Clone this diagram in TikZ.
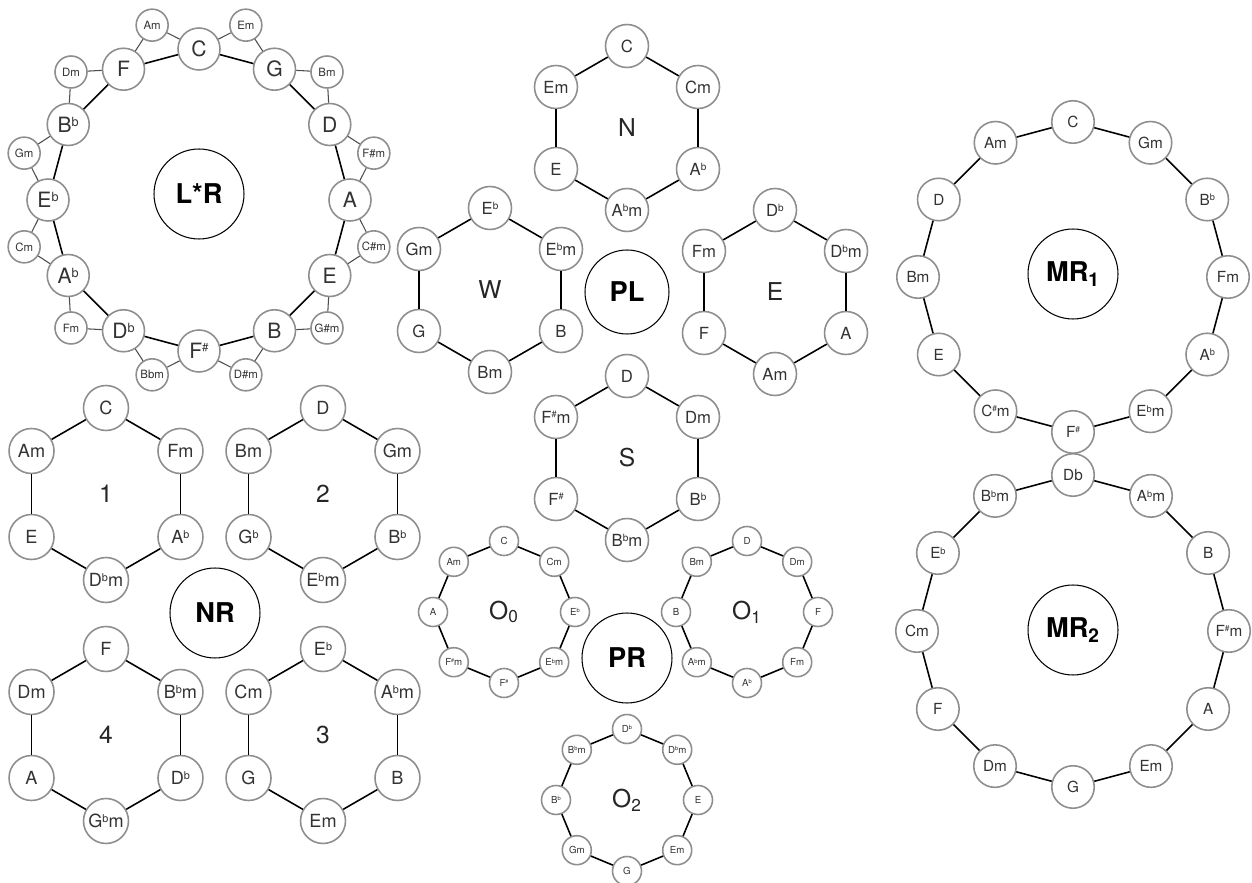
\documentclass[tikz,border=0pt]{standalone}
\usepackage{fontspec}
\setmainfont{TeX Gyre Heros}
\definecolor{rimgray}{HTML}{8E8E8E}
\newcommand{\flt}{\raisebox{0.28em}{\scalebox{0.6}{b}}}
\newcommand{\shp}{\raisebox{0.32em}{\scalebox{0.55}{\#}}}
\newcommand{\fsz}[1]{\fontsize{#1}{#1}\selectfont}

\tikzset{
  chord/.style={circle, draw=rimgray, line width=0.9pt, fill=white, inner sep=0pt, text=black!80},
  lrmaj/.style={chord, minimum size=0.84cm, font=\fsz{12pt}},
  lrmin/.style={chord, minimum size=0.64cm, font=\fsz{6.5pt}},
  hexnode/.style={chord, minimum size=0.86cm, font=\fsz{9.5pt}},
  nrnode/.style={chord, minimum size=0.9cm, font=\fsz{10.3pt}},
  mrnode/.style={chord, minimum size=0.85cm, font=\fsz{8.7pt}},
  onode/.style={chord, minimum size=0.58cm, font=\fsz{5.5pt}},
  hub/.style={circle, draw=black, line width=0.6pt, minimum size=1.8cm, inner sep=0pt, font=\bfseries\fsz{15.5pt}},
  ringname/.style={font=\fsz{14pt}, text=black!85},
  link/.style={line width=0.9pt, black},
  sidelink/.style={line width=0.6pt, black!70}
}

\newcommand{\chordring}[6]{%
  \begin{scope}[shift={#2}]
    \foreach \lbl [count=\i] in {#6}
      \node[#5] (#1\i) at ({90-360/#4*(\i-1)}:#3) {\lbl};
  \end{scope}
  \foreach \i in {1,...,#4}{
    \pgfmathtruncatemacro{\j}{mod(\i,#4)+1}
    \draw[link] (#1\i) -- (#1\j);
  }
}

\begin{document}
\begin{tikzpicture}[x=0.02cm, y=0.02cm]
\useasboundingbox (0,0) rectangle (1252,883);

% L*R
\begin{scope}[shift={(199,683)}]
  \foreach \lbl [count=\i] in {C,G,D,A,E,B,F\shp,D\flt,A\flt,E\flt,B\flt,F}
    \node[lrmaj] (lr\i) at ({90-30*(\i-1)}:151) {\lbl};
  \foreach \lbl [count=\i] in {Em,Bm,F\#m,C\#m,G\#m,D\#m,Bbm,Fm,Cm,Gm,Dm,Am}
    \node[lrmin] (lrm\i) at ({75-30*(\i-1)}:181) {\lbl};
  \node[hub] (lrhub) at (0,6) {L*R};
\end{scope}
\foreach \i in {1,...,12}{
  \pgfmathtruncatemacro{\j}{mod(\i,12)+1}
  \draw[link] (lr\i) -- (lr\j);
  \draw[sidelink] (lr\i) -- (lrm\i) -- (lr\j);
}

% PL
\chordring{n}{(627,755)}{82}{6}{hexnode}{C,Cm,A\flt,A\flt m,E,Em}
\chordring{w}{(490,593)}{82}{6}{hexnode}{E\flt,E\flt m,B,Bm,G,Gm}
\chordring{e}{(775,591)}{82}{6}{hexnode}{D\flt,D\flt m,A,Am,F,Fm}
\chordring{s}{(627,425)}{82}{6}{hexnode}{D,Dm,B\flt,B\flt m,F\shp,F\shp m}
\node[ringname] (nname) at (627,755) {N};
\node[ringname] (wname) at (490,593) {W};
\node[ringname] (ename) at (775,591) {E};
\node[ringname] (sname) at (627,425) {S};
\node[hub, minimum size=1.68cm] (plhub) at (627,591) {PL};

% NR
\chordring{nra}{(106,389)}{86}{6}{nrnode}{C,Fm,A\flt,D\flt m,E,Am}
\chordring{nrb}{(323,389)}{86}{6}{nrnode}{D,Gm,B\flt,E\flt m,G\flt,Bm}
\chordring{nrc}{(323,148)}{86}{6}{nrnode}{E\flt,A\flt m,B,Em,G,Cm}
\chordring{nrd}{(106,148)}{86}{6}{nrnode}{F,B\flt m,D\flt,G\flt m,A,Dm}
\node[ringname] (nraname) at (106,389) {1};
\node[ringname] (nrbname) at (323,389) {2};
\node[ringname] (nrcname) at (323,148) {3};
\node[ringname] (nrdname) at (106,148) {4};
\node[hub] (nrhub) at (215,270) {NR};

% PR
\chordring{oa}{(504,271)}{71}{8}{onode}{C,Cm,E\flt,E\flt m,F\shp,F\shp m,A,Am}
\chordring{ob}{(747,271)}{71}{8}{onode}{D,Dm,F,Fm,A\flt,A\flt m,B,Bm}
\chordring{oc}{(627,83)}{71}{8}{onode}{D\flt,D\flt m,E,Em,G,Gm,B\flt,B\flt m}
\node[ringname] (oaname) at (504,271) {O\textsubscript{0}};
\node[ringname] (obname) at (747,271) {O\textsubscript{1}};
\node[ringname] (ocname) at (627,83) {O\textsubscript{2}};
\node[hub] (prhub) at (627,225) {PR};

% MR
\chordring{mra}{(1073,606)}{155}{12}{mrnode}{C,Gm,B\flt,Fm,A\flt,E\flt m,F\shp,C\shp m,E,Bm,D,Am}
\chordring{mrb}{(1073,252)}{156}{12}{mrnode}{Db,A\flt m,B,F\shp m,A,Em,G,Dm,F,Cm,E\flt,B\flt m}
\node[hub] (mrahub) at (1073,609) {MR\textsubscript{1}};
\node[hub] (mrbhub) at (1073,253) {MR\textsubscript{2}};
\end{tikzpicture}
\end{document}
